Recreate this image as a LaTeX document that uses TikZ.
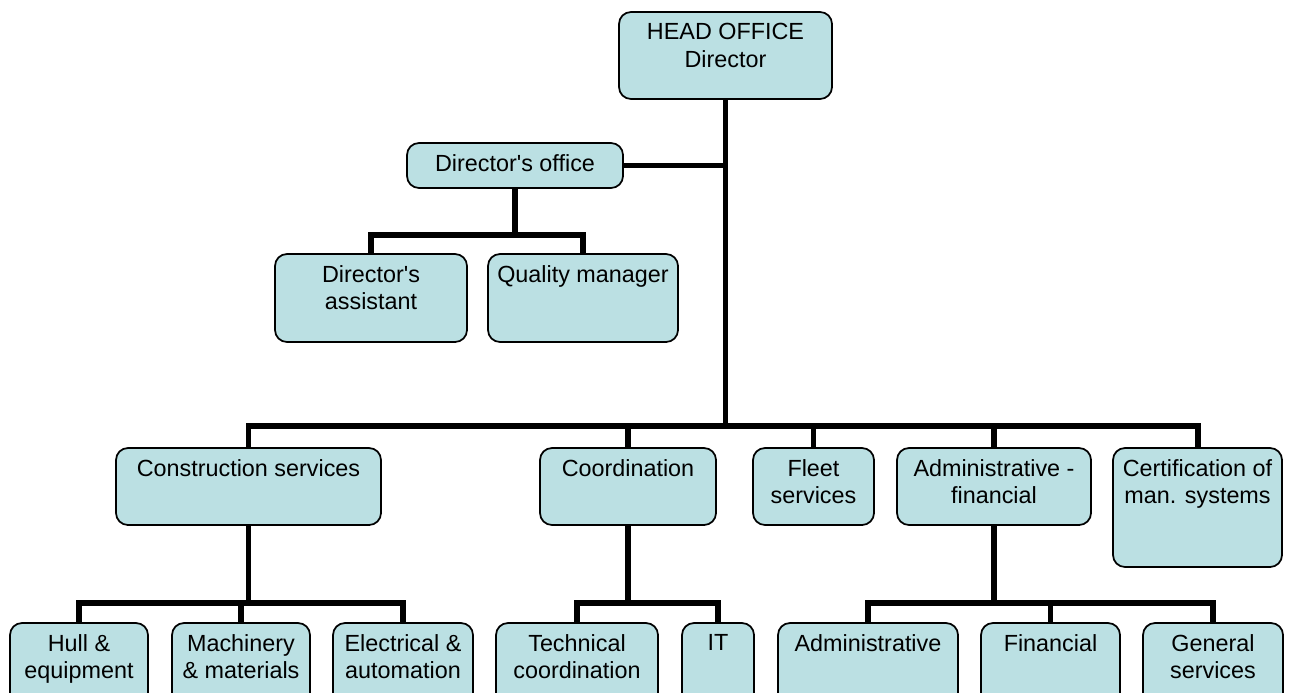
\documentclass[tikz,border=0pt]{standalone}
\usepackage{fontspec}
\setmainfont{Liberation Sans}
\definecolor{boxfill}{RGB}{187,224,227}
\pgfdeclarelayer{links}
\pgfsetlayers{links,main}

% #1 name, #2 left, #3 top, #4 right, #5 bottom, #6 text (in pixel units)
\newcommand{\orgbox}[6]{%
  \node[box, minimum width={(#4-#2)*0.02cm}, minimum height={(#5-#3)*0.02cm}]
    (#1) at ({(#2+#4)/2},{(#3+#5)/2}) {};
  \node[lbl] (#1t) at ({(#2+#4)/2},{#3+11}) {#6};
}

\begin{document}
\begin{tikzpicture}[x=0.02cm,y=-0.02cm,
  box/.style={draw=black, line width=1pt, fill=boxfill, rounded corners=0.24cm,
              inner sep=0pt, outer sep=0pt},
  lbl/.style={anchor=north, inner sep=0pt, align=center,
              font=\fontsize{13.3pt}{15.7pt}\selectfont},
  link/.style={line width=3.4pt, line join=miter, draw=black}]

\useasboundingbox (0,0) rectangle (1295,693);
\clip (0,0) rectangle (1295,693);

% top level
\orgbox{ho}{619}{12}{832}{99}{HEAD OFFICE\\Director}
\orgbox{do}{407}{143}{623}{188}{Director\textquotesingle s office}
\orgbox{da}{275}{254}{467}{342}{Director\textquotesingle s\\assistant}
\orgbox{qm}{488}{254}{678}{342}{Quality manager}

% departments
\orgbox{cs}{116}{448}{381}{525}{Construction services}
\orgbox{co}{540}{448}{716}{525}{Coordination}
\orgbox{fl}{753}{448}{874}{525}{Fleet\\services}
\orgbox{af}{897}{448}{1091}{525}{Administrative -\\financial}
\orgbox{ce}{1113}{448}{1282}{567}{Certification of\\man. systems}

% sections
\orgbox{hu}{10}{623}{148}{712}{Hull \&\\equipment}
\orgbox{ma}{172}{623}{310}{712}{Machinery\\\& materials}
\orgbox{el}{333}{623}{473}{712}{Electrical \&\\automation}
\orgbox{tc}{496}{623}{658}{712}{Technical\\coordination}
\orgbox{it}{682}{623}{754}{712}{IT}
\orgbox{ad}{778}{623}{958}{712}{Administrative}
\orgbox{fi}{981}{623}{1120}{712}{Financial}
\orgbox{gs}{1143}{623}{1283}{712}{General\\services}

% bus levels
\coordinate (dobus) at (0,235);
\coordinate (mainbus) at (0,426);
\coordinate (lowbus) at (0,603);

\begin{pgfonlayer}{links}
  % director's trunk and office branch
  \draw[link] (ho.south) -- (ho.south |- mainbus);
  \draw[link] (do.east) -- (ho.south |- do.east);
  \draw[link] (do.south) -- (do.south |- dobus);
  \draw[link] (da.north) -- (da.north |- dobus) -- (qm.north |- dobus) -- (qm.north);

  % main bus to departments
  \draw[link] (cs.north) -- (cs.north |- mainbus) -- (ce.north |- mainbus) -- (ce.north);
  \draw[link] (co.north) -- (co.north |- mainbus);
  \draw[link] (fl.north) -- (fl.north |- mainbus);
  \draw[link] (af.north) -- (af.north |- mainbus);

  % construction services
  \draw[link] (cs.south) -- (cs.south |- lowbus);
  \draw[link] (hu.north) -- (hu.north |- lowbus) -- (el.north |- lowbus) -- (el.north);
  \draw[link] (ma.north) -- (ma.north |- lowbus);

  % coordination
  \draw[link] (co.south) -- (co.south |- lowbus);
  \draw[link] (tc.north) -- (tc.north |- lowbus) -- (it.north |- lowbus) -- (it.north);

  % administrative - financial
  \draw[link] (af.south) -- (af.south |- lowbus);
  \draw[link] (ad.north) -- (ad.north |- lowbus) -- (gs.north |- lowbus) -- (gs.north);
  \draw[link] (fi.north) -- (fi.north |- lowbus);
\end{pgfonlayer}
\end{tikzpicture}
\end{document}
